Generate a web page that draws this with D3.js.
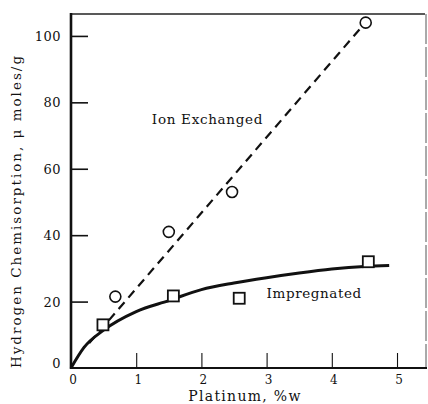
<!DOCTYPE html>
<html>
<head>
<meta charset="utf-8">
<script src="https://cdn.jsdelivr.net/npm/d3@7"></script>
<style>
  body { margin: 0; background: #fff; }
  text { font-family: "DejaVu Serif", serif; fill: #111; }
</style>
</head>
<body>
<div id="chart"></div>
<script>
// values
var xTicks = [0, 1, 2, 3, 4, 5];
var yTicks = [0, 20, 40, 60, 80, 100];

var ionX = [0.68, 1.5, 2.47, 4.52];
var ionY = [21.5, 41, 53, 104];

var impX = [0.49, 1.57, 2.58, 4.56];
var impY = [13, 21.7, 21, 32];

// dashed fit through ion exchanged points
var fitIonX = [0.28, 4.47];
var fitIonY = [7.5, 103];

// solid curve through impregnated points
var fitImpX = [0, 0.2, 0.5, 1, 1.5, 2, 2.5, 3, 3.5, 4, 4.5, 4.88];
var fitImpY = [0, 6.2, 11.4, 17, 20.3, 23.6, 25.6, 27.2, 28.6, 29.8, 30.6, 30.9];

var width = 428, height = 404;
var mLeft = 71, mRight = 427, mTop = 14, mBottom = 368;

var svg = d3.select('#chart').append('svg')
    .attr('width', width)
    .attr('height', height);

var x = d3.scaleLinear().domain([0, 5.46]).range([mLeft, mRight]);
var y = d3.scaleLinear().domain([0, 106.6]).range([mBottom, mTop]);

// frame
svg.append('line').attr('x1', mLeft).attr('x2', mRight - 2).attr('y1', mTop).attr('y2', mTop)
    .attr('stroke', '#222').attr('stroke-width', 1.5);
svg.append('line').attr('x1', mRight - 1).attr('x2', mRight - 1).attr('y1', mTop).attr('y2', mBottom)
    .attr('stroke', '#555').attr('stroke-width', 1).attr('stroke-dasharray', '30,3');

// y axis, ticks pointing inward
var yAxis = d3.axisRight(y).tickValues(yTicks.slice(1)).tickSize(17).tickFormat('');
var gy = svg.append('g').attr('transform', 'translate(' + mLeft + ',0)').call(yAxis);
gy.select('.domain').remove();
gy.selectAll('.tick line').attr('stroke', '#111').attr('stroke-width', 1.6);

// x axis, ticks pointing up
var xAxis = d3.axisTop(x).tickValues(xTicks.slice(1)).tickSize(15).tickFormat('');
var gx = svg.append('g').attr('transform', 'translate(0,' + mBottom + ')').call(xAxis);
gx.select('.domain').remove();
gx.selectAll('.tick line').attr('stroke', '#111').attr('stroke-width', 1.1);

// axis lines
svg.append('line').attr('x1', mLeft).attr('x2', mLeft).attr('y1', mTop - 1).attr('y2', mBottom + 1)
    .attr('stroke', '#111').attr('stroke-width', 2.6);
svg.append('line').attr('x1', mLeft).attr('x2', mRight).attr('y1', mBottom).attr('y2', mBottom)
    .attr('stroke', '#111').attr('stroke-width', 2.2);

// tick labels
svg.selectAll('.ylab')
    .data(yTicks).enter()
    .append('text')
    .attr('class', 'ylab')
    .attr('x', 61)
    .attr('y', function (d) { return y(d) + (d === 0 ? 0 : 5); })
    .attr('text-anchor', 'end')
    .style('font-size', '13px')
    .style('letter-spacing', '0.5px')
    .text(function (d) { return d; });

svg.selectAll('.xlab')
    .data(xTicks).enter()
    .append('text')
    .attr('class', 'xlab')
    .attr('x', function (d) { return x(d) + 2; })
    .attr('y', mBottom + 16)
    .attr('text-anchor', 'middle')
    .style('font-size', '12px')
    .text(function (d) { return d; });

// axis titles
svg.append('text')
    .attr('transform', 'translate(21,' + 211 + ') rotate(-90)')
    .attr('text-anchor', 'middle')
    .style('font-size', '13.5px')
    .style('letter-spacing', '2px')
    .text('Hydrogen Chemisorption, \u03bc moles/g');

svg.append('text')
    .attr('x', 245)
    .attr('y', 401)
    .attr('text-anchor', 'middle')
    .style('font-size', '14px')
    .style('letter-spacing', '1.3px')
    .text('Platinum, %w');

// lines
var line = d3.line()
    .x(function (d) { return x(d[0]); })
    .y(function (d) { return y(d[1]); });

svg.append('path')
    .datum(d3.zip(fitIonX, fitIonY))
    .attr('d', line)
    .attr('fill', 'none')
    .attr('stroke', '#111')
    .attr('stroke-width', 2.2)
    .attr('stroke-dasharray', '9,6');

svg.append('path')
    .datum(d3.zip(fitImpX, fitImpY))
    .attr('d', line.curve(d3.curveMonotoneX))
    .attr('fill', 'none')
    .attr('stroke', '#111')
    .attr('stroke-width', 3);

// markers
svg.selectAll('.ion')
    .data(d3.zip(ionX, ionY)).enter()
    .append('circle')
    .attr('class', 'ion')
    .attr('cx', function (d) { return x(d[0]); })
    .attr('cy', function (d) { return y(d[1]); })
    .attr('r', 5.5)
    .attr('fill', '#fff')
    .attr('stroke', '#111')
    .attr('stroke-width', 1.6);

svg.selectAll('.imp')
    .data(d3.zip(impX, impY)).enter()
    .append('rect')
    .attr('class', 'imp')
    .attr('x', function (d) { return x(d[0]) - 5.5; })
    .attr('y', function (d) { return y(d[1]) - 5.5; })
    .attr('width', 11)
    .attr('height', 11)
    .attr('fill', '#fff')
    .attr('stroke', '#111')
    .attr('stroke-width', 1.8);

// annotations
svg.append('text')
    .attr('x', x(1.24))
    .attr('y', y(73.5))
    .style('font-size', '13.5px')
    .style('letter-spacing', '0.7px')
    .text('Ion Exchanged');

svg.append('text')
    .attr('x', x(3.0))
    .attr('y', y(21))
    .style('font-size', '13.5px')
    .style('letter-spacing', '0.6px')
    .text('Impregnated');
</script>
</body>
</html>
